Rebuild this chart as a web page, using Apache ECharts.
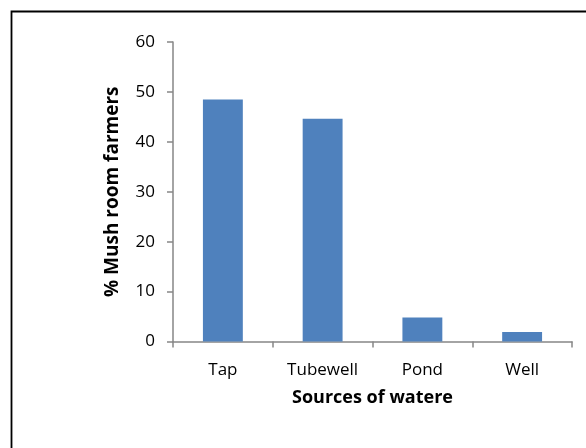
<!DOCTYPE html>
<html>
<head>
<meta charset="utf-8">
<script src="https://cdn.jsdelivr.net/npm/echarts@6/dist/echarts.min.js"></script>
<style>
  html, body { margin: 0; padding: 0; background: #ffffff; }
  #chart { width: 586px; height: 448px; }
</style>
</head>
<body>
<div id="chart"></div>
<script>
// Water sources used by mushroom farmers
const categories = ['Tap', 'Tubewell', 'Pond', 'Well'];
const farmerShare = [48.5, 44.6, 4.8, 1.9];
const yTicks = [0, 10, 20, 30, 40, 50, 60];

const font = '"Open Sans", "Noto Sans", sans-serif';
const axisGray = '#868686';

const chart = echarts.init(document.getElementById('chart'), null, { renderer: 'canvas' });
chart.setOption({
  backgroundColor: '#ffffff',
  animation: false,
  graphic: [{
    type: 'rect',
    shape: { x: 11.5, y: 11.5, width: 700, height: 600 },
    style: { fill: 'none', stroke: '#000000', lineWidth: 1.8 },
    silent: true
  }],
  grid: { left: 173, right: 14, top: 42, bottom: 106.5 },
  xAxis: {
    type: 'category',
    data: categories,
    name: 'Sources of watere',
    nameLocation: 'middle',
    nameGap: 47,
    nameTextStyle: { fontFamily: font, fontSize: 18, fontWeight: 'bold', color: '#000000' },
    axisLine: { lineStyle: { color: axisGray, width: 1.5 } },
    axisTick: { show: true, length: 6, alignWithLabel: false, lineStyle: { color: axisGray, width: 1.5 } },
    axisLabel: { fontFamily: font, fontSize: 17, color: '#000000', margin: 20 }
  },
  yAxis: {
    type: 'value',
    min: yTicks[0],
    max: yTicks[yTicks.length - 1],
    interval: 10,
    name: '% Mush room farmers',
    nameLocation: 'middle',
    nameGap: 51,
    nameRotate: 90,
    nameTextStyle: { fontFamily: font, fontSize: 19, fontWeight: 'bold', color: '#000000' },
    axisLine: { show: true, lineStyle: { color: axisGray, width: 1.5 } },
    axisTick: { show: true, length: 6, lineStyle: { color: axisGray, width: 1.5 } },
    splitLine: { show: false },
    axisLabel: { fontFamily: font, fontSize: 17, color: '#000000', margin: 18 }
  },
  series: [{
    type: 'bar',
    data: farmerShare,
    barCategoryGap: '60%',
    itemStyle: { color: '#4F81BD' }
  }]
});
</script>
</body>
</html>
